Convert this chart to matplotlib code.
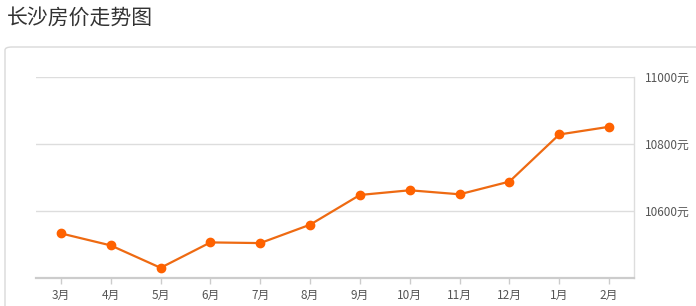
import matplotlib.pyplot as plt
from matplotlib.patches import FancyBboxPatch

plt.rcParams['font.family'] = ['Noto Sans CJK SC', 'DejaVu Sans']

# 数据
months = ["3月", "4月", "5月", "6月", "7月", "8月", "9月", "10月", "11月", "12月", "1月", "2月"]
prices = [10532, 10496, 10429, 10505, 10503, 10558, 10647, 10661, 10649, 10687, 10828, 10851]
y_ticks = [10600, 10800, 11000]
y_labels = ["10600元", "10800元", "11000元"]

W, H = 696, 306
fig = plt.figure(figsize=(W / 100, H / 100), dpi=100)

# 标题
fig.text(7 / W, 1 - 18 / H, "长沙房价走势图", fontsize=15, color="#333333", va="center", ha="left")

# 卡片边框
card = FancyBboxPatch((5 / W, -0.05), 1.0, 1 - 47 / H + 0.05,
                      boxstyle="round,pad=0,rounding_size=0.01",
                      transform=fig.transFigure, facecolor="white",
                      edgecolor="#d9d9d9", linewidth=1, zorder=-1)
fig.patches.append(card)

ax = fig.add_axes([36 / W, 1 - 277.5 / H, (634 - 36) / W, (277.5 - 77) / H])
ax.set_zorder(2)
ax.set_facecolor("none")
x = list(range(len(months)))
ax.plot(x, prices, color="#ee6a12", linewidth=1.6, marker="o", markersize=6,
        markerfacecolor="#ff6200", markeredgecolor="#ff6200", zorder=3)

ax.set_xlim(-0.5, len(months) - 0.5)
ax.set_ylim(10400, 11000)
ax.set_xticks(x)
ax.set_xticklabels(months)
ax.set_yticks(y_ticks)
ax.set_yticklabels(y_labels)
ax.yaxis.tick_right()
ax.grid(axis="y", color="#dddddd", linewidth=1)
ax.set_axisbelow(True)

for s in ["top", "left"]:
    ax.spines[s].set_visible(False)
ax.spines["bottom"].set_color("#cccccc")
ax.spines["bottom"].set_linewidth(1.6)
ax.spines["right"].set_color("#dddddd")
ax.spines["right"].set_linewidth(1)

ax.tick_params(axis="x", colors="#cccccc", length=4, width=1, labelsize=8.5, labelcolor="#555555", pad=4)
ax.tick_params(axis="y", length=0, labelsize=8.5, labelcolor="#555555", pad=8)

fig.savefig("out.png", dpi=100)
